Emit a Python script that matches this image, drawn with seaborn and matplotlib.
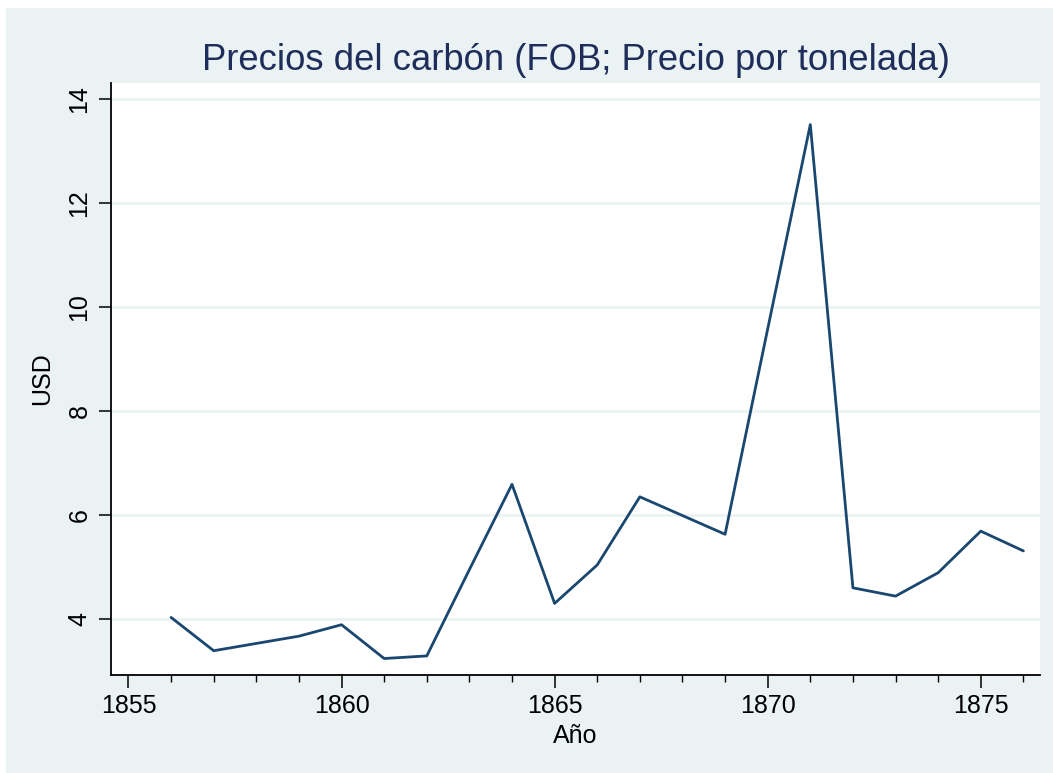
import matplotlib
matplotlib.use("Agg")
import matplotlib.pyplot as plt
from matplotlib.patches import Rectangle
from matplotlib.ticker import MultipleLocator
import seaborn as sns
import pandas as pd

years = [1856, 1857, 1858, 1859, 1860, 1861, 1862, 1863, 1864, 1865, 1866,
         1867, 1868, 1869, 1870, 1871, 1872, 1873, 1874, 1875, 1876]
prices = [4.03, 3.39, 3.53, 3.67, 3.89, 3.24, 3.29, 4.95, 6.59, 4.30, 5.04,
          6.35, 5.99, 5.63, 9.58, 13.51, 4.60, 4.44, 4.89, 5.69, 5.31]
x_ticks = [1855, 1860, 1865, 1870, 1875]
y_ticks = [4, 6, 8, 10, 12, 14]

title = "Precios del carbón (FOB; Precio por tonelada)"
xlabel = "Año"
ylabel = "USD"

df = pd.DataFrame({"year": years, "price": prices})

sns.set_theme(style="white")
plt.rcParams['font.family'] = ['Liberation Sans', 'DejaVu Sans']

BG = "#EAF2F3"
LINE = "#1A476F"
TITLE_C = "#1E2D5A"

fig = plt.figure(figsize=(10.53, 7.73), dpi=100, facecolor="white")
fig.patches.append(Rectangle((6/1053, 0), 1 - 6/1053, 1 - 8/773,
                             transform=fig.transFigure, facecolor=BG,
                             edgecolor="none", zorder=-1))
ax = fig.add_axes([111/1053, 1 - 675/773, (1040 - 111)/1053, (675 - 83)/773])
ax.set_facecolor("white")

sns.lineplot(data=df, x="year", y="price", ax=ax, color=LINE, linewidth=2.0)

ax.set_xlim(1854.59, 1876.39)
ax.set_ylim(2.923, 14.31)
ax.set_xticks(x_ticks)
ax.xaxis.set_minor_locator(MultipleLocator(1))
ax.set_yticks(y_ticks)
ax.grid(axis="y", color=BG, linewidth=1.8)
ax.set_axisbelow(True)

for s in ["top", "right"]:
    ax.spines[s].set_visible(False)
for s in ["left", "bottom"]:
    ax.spines[s].set_color("black")
    ax.spines[s].set_linewidth(1.3)

ax.tick_params(axis="both", which="major", direction="out", length=9, width=1.1,
               color="black", labelsize=18, labelcolor="black", pad=5,
               left=True, bottom=True)
ax.tick_params(axis="x", which="minor", direction="out", length=5, width=1.0,
               color="black", bottom=True)
plt.setp(ax.get_yticklabels(), rotation=90, va="center")

ax.set_xlabel(xlabel, fontsize=18, color="black", labelpad=4)
ax.set_ylabel(ylabel, fontsize=18, color="black", labelpad=10)
ax.set_title(title, fontsize=26.3, color=TITLE_C, pad=9)

fig.savefig("out.png", dpi=100, facecolor=fig.get_facecolor())
